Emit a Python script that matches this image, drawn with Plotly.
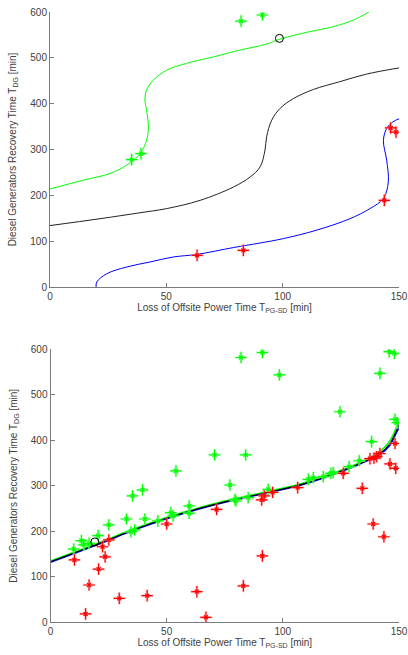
import plotly.graph_objects as go

# ---------------- Top panel data ----------------
top_green_x = [0, 14.3, 25.8, 33, 38.7, 41.5, 42.3, 41.5, 40.8, 41.5, 44.4, 50.1, 58.7, 70.2, 81.7, 93.1, 98.9, 110.3, 121.8, 130.4, 137.1]
top_green_y = [214, 233, 247.6, 266, 291, 320, 349.5, 386, 408, 429.6, 451, 473, 488, 502, 517, 530, 541, 555.6, 568, 582.5, 600]

top_black_x = [0, 21.5, 38.7, 50.1, 64.5, 78.8, 86, 90.3, 92.4, 93.1, 95.3, 98.9, 104.6, 113.2, 124.6, 136.1, 150]
top_black_y = [134, 149, 162, 171, 189, 218, 240, 262, 298.5, 327.7, 364, 389.8, 411, 431, 448, 464.6, 478]

top_blue_x = [19.8, 20.1, 24.4, 33, 43, 53, 63, 78.8, 90.3, 100.3, 114.6, 128.9, 137.5, 143.3, 145.4, 144.7, 143.3, 144.7, 147.3, 150]
top_blue_y = [0, 11, 29, 43.7, 54.6, 65.5, 71, 86, 96, 105.6, 124, 149, 171, 193, 229, 276.7, 320, 346, 360, 367]

top_green_pts_x = [82.1, 91.3, 35.1, 39.1]
top_green_pts_y = [580, 593.4, 278, 291]
top_red_pts_x = [63.2, 83.1, 143.7, 146.4, 148.7]
top_red_pts_y = [69, 80, 189, 347, 338]
top_circle_x = [98.6]
top_circle_y = [542.5]

# ---------------- Bottom panel data ----------------
bot_line_x = [0, 21.2, 35.6, 50, 64.3, 78.7, 93, 107.4, 121.7, 133.2, 141.8, 146.1, 149, 150]
bot_black_y = [133, 173.6, 203, 228.6, 250.5, 269, 285, 302, 326, 349, 371, 393, 422.7, 434]
bot_green_y = [135, 175.6, 205, 230.6, 252.5, 271, 287, 304, 328, 351.5, 375, 399, 430, 441]
bot_blue_y = [132, 172.6, 202, 227.6, 249.5, 268, 284, 301, 325, 348, 369, 389, 418, 428]

bot_green_pts_x = [10.0, 13.3, 14.4, 16.6, 20.5, 25.1, 32.7, 34.6, 35.3, 36.2, 39.6, 40.6, 46.2, 51.8,
                   52.8, 54.0, 59.7, 59.7, 70.6, 77.2, 79.4, 79.8, 82.0, 84.0, 85.1, 91.2, 93.7, 98.5,
                   111.0, 113.1, 117.4, 120.7, 121.7, 124.6, 128.5, 132.9, 138.2, 141.8, 145.8, 148.0,
                   148.3, 149.3]
bot_green_pts_y = [161, 179.5, 170, 173.6, 190.5, 214, 227, 199, 278, 203, 291, 227, 223, 241,
                   234, 332.6, 255.7, 239.6, 367.8, 301.8, 270, 266.6, 582, 367.8, 274, 593, 292, 543.6,
                   314, 317.8, 320, 327.5, 328.8, 462.8, 342, 355, 397, 547, 594.7, 591,
                   446, 438.7]

bot_red_pts_x = [10.3, 16.6, 15.1, 20.7, 22.4, 23.5, 25.1, 29.6, 41.6, 50.0, 63.0, 66.9, 71.5, 83.0,
                 90.9, 91.2, 92.0, 95.6, 106.4, 126.0, 134.2, 138.9, 137.5, 139.2, 140.4, 141.8,
                 143.5, 146.1, 148.3, 148.6]
bot_red_pts_y = [137, 82, 18.3, 117, 166, 144, 181, 52.7, 58.6, 216, 67.4, 11, 248, 80,
                 269, 145.8, 278, 285.7, 296, 327.5, 294.5, 216, 359.6, 361, 364, 371,
                 188, 348, 393, 338.5]
bot_circle_x = [19.1]
bot_circle_y = [176.6]

x_ticks = [0, 50, 100, 150]
y_ticks = [0, 100, 200, 300, 400, 500, 600]

GREEN = "#00ff00"
RED = "#ff0000"
BLUE = "#0000ff"
BLACK = "#000000"

fig = go.Figure()


def line(x, y, color, xa, ya, width=1.0, spline=True):
    fig.add_trace(go.Scatter(x=x, y=y, mode="lines",
                             line=dict(color=color, width=width,
                                       shape="spline" if spline else "linear", smoothing=1.0),
                             xaxis=xa, yaxis=ya, showlegend=False, hoverinfo="skip"))


def stars(x, y, color, xa, ya):
    halo = "rgba(255,160,160,0.6)" if color == RED else "rgba(160,255,160,0.6)"
    fig.add_trace(go.Scatter(x=x, y=y, mode="markers",
                             marker=dict(symbol="cross-thin-open", size=9, color=halo,
                                         line=dict(color=halo, width=2.5)),
                             xaxis=xa, yaxis=ya, showlegend=False, hoverinfo="skip"))
    fig.add_trace(go.Scatter(x=x, y=y, mode="markers",
                             marker=dict(symbol="cross-thin-open", size=8, color=color,
                                         line=dict(color=color, width=1.2)),
                             xaxis=xa, yaxis=ya, showlegend=False, hoverinfo="skip"))
    fig.add_trace(go.Scatter(x=x, y=y, mode="markers",
                             marker=dict(symbol="x-thin-open", size=4, color=color,
                                         line=dict(color=color, width=1.2)),
                             xaxis=xa, yaxis=ya, showlegend=False, hoverinfo="skip"))


def circle(x, y, xa, ya):
    fig.add_trace(go.Scatter(x=x, y=y, mode="markers",
                             marker=dict(symbol="circle-open", size=8, color=BLACK,
                                         line=dict(color="#333333", width=1)),
                             xaxis=xa, yaxis=ya, showlegend=False, hoverinfo="skip"))


# Top panel
line(top_green_x, top_green_y, GREEN, "x", "y")
line(top_black_x, top_black_y, "#222222", "x", "y")
line(top_blue_x, top_blue_y, BLUE, "x", "y")
stars(top_green_pts_x, top_green_pts_y, GREEN, "x", "y")
stars(top_red_pts_x, top_red_pts_y, RED, "x", "y")
circle(top_circle_x, top_circle_y, "x", "y")

# Bottom panel
line(bot_line_x, bot_green_y, GREEN, "x2", "y2", 1.5)
line(bot_line_x, bot_blue_y, BLUE, "x2", "y2", 1.5)
line(bot_line_x, bot_black_y, BLACK, "x2", "y2", 1.1)
stars(bot_green_pts_x, bot_green_pts_y, GREEN, "x2", "y2")
stars(bot_red_pts_x, bot_red_pts_y, RED, "x2", "y2")
circle(bot_circle_x, bot_circle_y, "x2", "y2")

FONT = dict(family="Liberation Sans, Arial, sans-serif", size=10, color="#404040")
AX_COL = "#7a7a7a"

xtitle = "Loss of Offsite Power Time T<sub>PG-SD</sub> [min]"
ytitle = "Diesel Generators Recovery Time T<sub>DG</sub> [min]"

common_x = dict(range=[0, 150], tickvals=x_ticks, ticks="inside", ticklen=4, tickcolor=AX_COL,
                showline=True, linecolor=AX_COL, linewidth=1, showgrid=False, zeroline=False,
                tickfont=FONT, title=dict(text=xtitle, font=FONT, standoff=2), mirror=False,
                automargin=False)
common_y = dict(range=[0, 600], tickvals=y_ticks, ticks="inside", ticklen=4, tickcolor=AX_COL,
                showline=True, linecolor=AX_COL, linewidth=1, showgrid=False, zeroline=False,
                tickfont=FONT, title=dict(text=ytitle, font=FONT, standoff=11), mirror=False,
                automargin=False)

W, H = 408, 655


def dx(px):
    return px / W


def dy(py):
    return 1 - py / H


fig.update_layout(
    width=W, height=H,
    margin=dict(l=0, r=0, t=0, b=0, autoexpand=False),
    paper_bgcolor="white", plot_bgcolor="white",
    font=FONT,
    hovermode=False,
    xaxis=dict(common_x, domain=[dx(50), dx(399)], anchor="y"),
    yaxis=dict(common_y, domain=[dy(287), dy(12)], anchor="x"),
    xaxis2=dict(common_x, domain=[dx(50.5), dx(399)], anchor="y2"),
    yaxis2=dict(common_y, domain=[dy(622.3), dy(349.3)], anchor="x2"),
)

# remove the browser's default 8px body margin so the figure fills the window
fig.write_html("out.html",
               config={"displayModeBar": False},
               post_script="document.body.style.margin='0px';document.body.style.overflow='hidden';")
